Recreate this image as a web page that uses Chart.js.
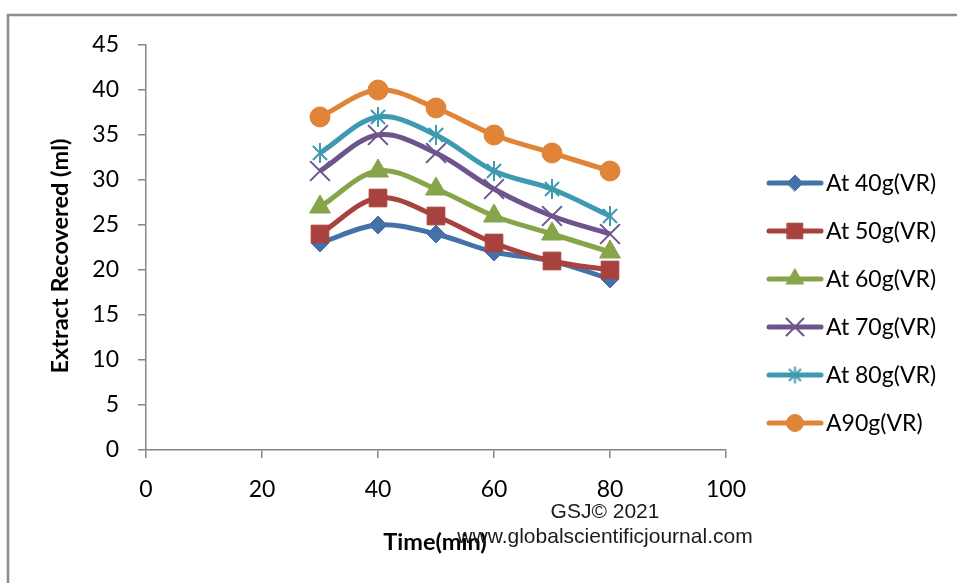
<!DOCTYPE html>
<html>
<head>
<meta charset="utf-8">
<script src="https://cdn.jsdelivr.net/npm/chart.js@4/dist/chart.umd.min.js"></script>
<style>
  html, body { margin: 0; padding: 0; background: #fff; }
  #wrap { width: 957px; height: 583px; position: relative; }
</style>
</head>
<body>
<div id="wrap"><canvas id="c" width="957" height="583"></canvas></div>
<script>
// Extraction time (min) and extract recovered (ml) for each vegetable-residue load
const times = [30, 40, 50, 60, 70, 80];
const seriesNames = ['At 40g(VR)', 'At 50g(VR)', 'At 60g(VR)', 'At 70g(VR)', 'At 80g(VR)', 'A90g(VR)'];
const at40g = [23, 25, 24, 22, 21, 19];
const at50g = [24, 28, 26, 23, 21, 20];
const at60g = [27, 31, 29, 26, 24, 22];
const at70g = [31, 35, 33, 29, 26, 24];
const at80g = [33, 37, 35, 31, 29, 26];
const at90g = [37, 40, 38, 35, 33, 31];
const xTickValues = [0, 20, 40, 60, 80, 100];
const yTickValues = [0, 5, 10, 15, 20, 25, 30, 35, 40, 45];

const seriesValues = [at40g, at50g, at60g, at70g, at80g, at90g];
const colors = ['#4472A8', '#A8423F', '#86A44A', '#6E548D', '#3D9AB1', '#E08438'];

// Asterisk marker: vertical stroke plus a diagonal cross
function asterisk(color, r) {
  const c = document.createElement('canvas');
  const s = Math.ceil(2 * r + 4);
  c.width = s; c.height = s;
  const g = c.getContext('2d');
  const m = s / 2, d = r * Math.SQRT1_2;
  g.strokeStyle = color; g.lineWidth = 2;
  g.beginPath();
  g.moveTo(m, m - r); g.lineTo(m, m + r);
  g.moveTo(m - d, m - d); g.lineTo(m + d, m + d);
  g.moveTo(m - d, m + d); g.lineTo(m + d, m - d);
  g.stroke();
  return c;
}

const markers = [
  { style: 'rectRot', r: 9, legendR: 8 },
  { style: 'rect', r: 12.5, legendR: 11 },
  { style: 'triangle', r: 12, legendR: 10 },
  { style: 'crossRot', r: 14, legendR: 12 },
  { style: asterisk(colors[4], 10), legendStyle: asterisk(colors[4], 8.5), r: 10, legendR: 8.5 },
  { style: 'circle', r: 10, legendR: 8.5 }
];

const datasets = seriesValues.map((vals, i) => ({
  label: seriesNames[i],
  data: vals.map((v, k) => ({ x: times[k], y: v })),
  borderColor: colors[i],
  backgroundColor: colors[i],
  borderWidth: 5,
  tension: 0.35,
  pointStyle: markers[i].style,
  pointRadius: markers[i].r,
  pointBorderWidth: (markers[i].style === 'crossRot') ? 2 : 1,
  pointBorderColor: colors[i],
  pointBackgroundColor: colors[i],
  order: 5 - i
}));

const AXIS = '#868686';
const TICK_FONT = { family: 'Lato', size: 23 };

function drawMarker(ctx, style, r, x, y, color) {
  ctx.save();
  ctx.fillStyle = color; ctx.strokeStyle = color;
  ctx.lineWidth = style === 'crossRot' ? 2 : 1;
  if (Chart.helpers && Chart.helpers.drawPoint) {
    Chart.helpers.drawPoint(ctx, { pointStyle: style, radius: r, rotation: 0, borderWidth: ctx.lineWidth }, x, y);
  }
  ctx.restore();
}

const decorations = {
  id: 'decorations',
  beforeDraw(chart) {
    const ctx = chart.ctx;
    ctx.save();
    ctx.fillStyle = '#fff';
    ctx.fillRect(0, 0, chart.width, chart.height);
    // outer frame
    ctx.strokeStyle = '#8c8c8c';
    ctx.lineWidth = 2.5;
    ctx.beginPath();
    ctx.moveTo(8, chart.height + 5);
    ctx.lineTo(8, 15);
    ctx.lineTo(chart.width + 5, 15);
    ctx.stroke();
    ctx.restore();
  },
  afterDraw(chart) {
    const ctx = chart.ctx;
    ctx.save();
    // axis titles
    ctx.fillStyle = '#000';
    ctx.font = 'bold 23.5px Lato';
    ctx.textAlign = 'center';
    ctx.textBaseline = 'alphabetic';
    ctx.fillText('Time(min)', 435, 550);
    ctx.save();
    ctx.translate(68, 256);
    ctx.rotate(-Math.PI / 2);
    ctx.fillText('Extract Recovered (ml)', 0, 0);
    ctx.restore();

    // legend
    const rowY = [183, 231, 279, 327, 375, 423];
    ctx.font = '23px Lato';
    ctx.textAlign = 'left';
    ctx.textBaseline = 'middle';
    seriesNames.forEach((name, i) => {
      const y = rowY[i];
      ctx.strokeStyle = colors[i];
      ctx.lineWidth = 5;
      ctx.lineCap = 'round';
      ctx.beginPath();
      ctx.moveTo(769, y);
      ctx.lineTo(821, y);
      ctx.stroke();
      const m = markers[i];
      drawMarker(ctx, m.legendStyle || m.style, m.legendR, 795, y, colors[i]);
      ctx.fillStyle = '#000';
      ctx.fillText(name, 826, y + 1);
    });

    // journal mark
    ctx.fillStyle = '#1a1a1a';
    ctx.font = '21px "Liberation Sans"';
    ctx.textAlign = 'center';
    ctx.textBaseline = 'alphabetic';
    ctx.fillText('GSJ\u00A9 2021', 605, 518);
    ctx.fillText('www.globalscientificjournal.com', 605, 543);
    ctx.restore();
  }
};

new Chart(document.getElementById('c'), {
  type: 'line',
  data: { datasets },
  options: {
    responsive: false,
    devicePixelRatio: 1,
    animation: false,
    events: [],
    layout: { padding: { left: 0, top: 45, right: 231, bottom: 0 } },
    plugins: { legend: { display: false }, tooltip: { enabled: false } },
    scales: {
      x: {
        type: 'linear',
        min: 0, max: 100,
        afterBuildTicks: s => { s.ticks = xTickValues.map(v => ({ value: v })); },
        afterFit: s => { s.height = 133; },
        border: { color: AXIS, width: 1.5 },
        grid: { display: true, drawOnChartArea: false, drawTicks: true, tickLength: 8, color: AXIS, lineWidth: 1.5 },
        ticks: { color: '#000', font: TICK_FONT, padding: 18, maxRotation: 0 }
      },
      y: {
        type: 'linear',
        min: 0, max: 45,
        afterBuildTicks: s => { s.ticks = yTickValues.map(v => ({ value: v })); },
        afterFit: s => { s.width = 146; },
        border: { color: AXIS, width: 1.5 },
        grid: { display: true, drawOnChartArea: false, drawTicks: true, tickLength: 8, color: AXIS, lineWidth: 1.5 },
        ticks: { color: '#000', font: TICK_FONT, padding: 19 }
      }
    }
  },
  plugins: [decorations]
});
</script>
</body>
</html>
